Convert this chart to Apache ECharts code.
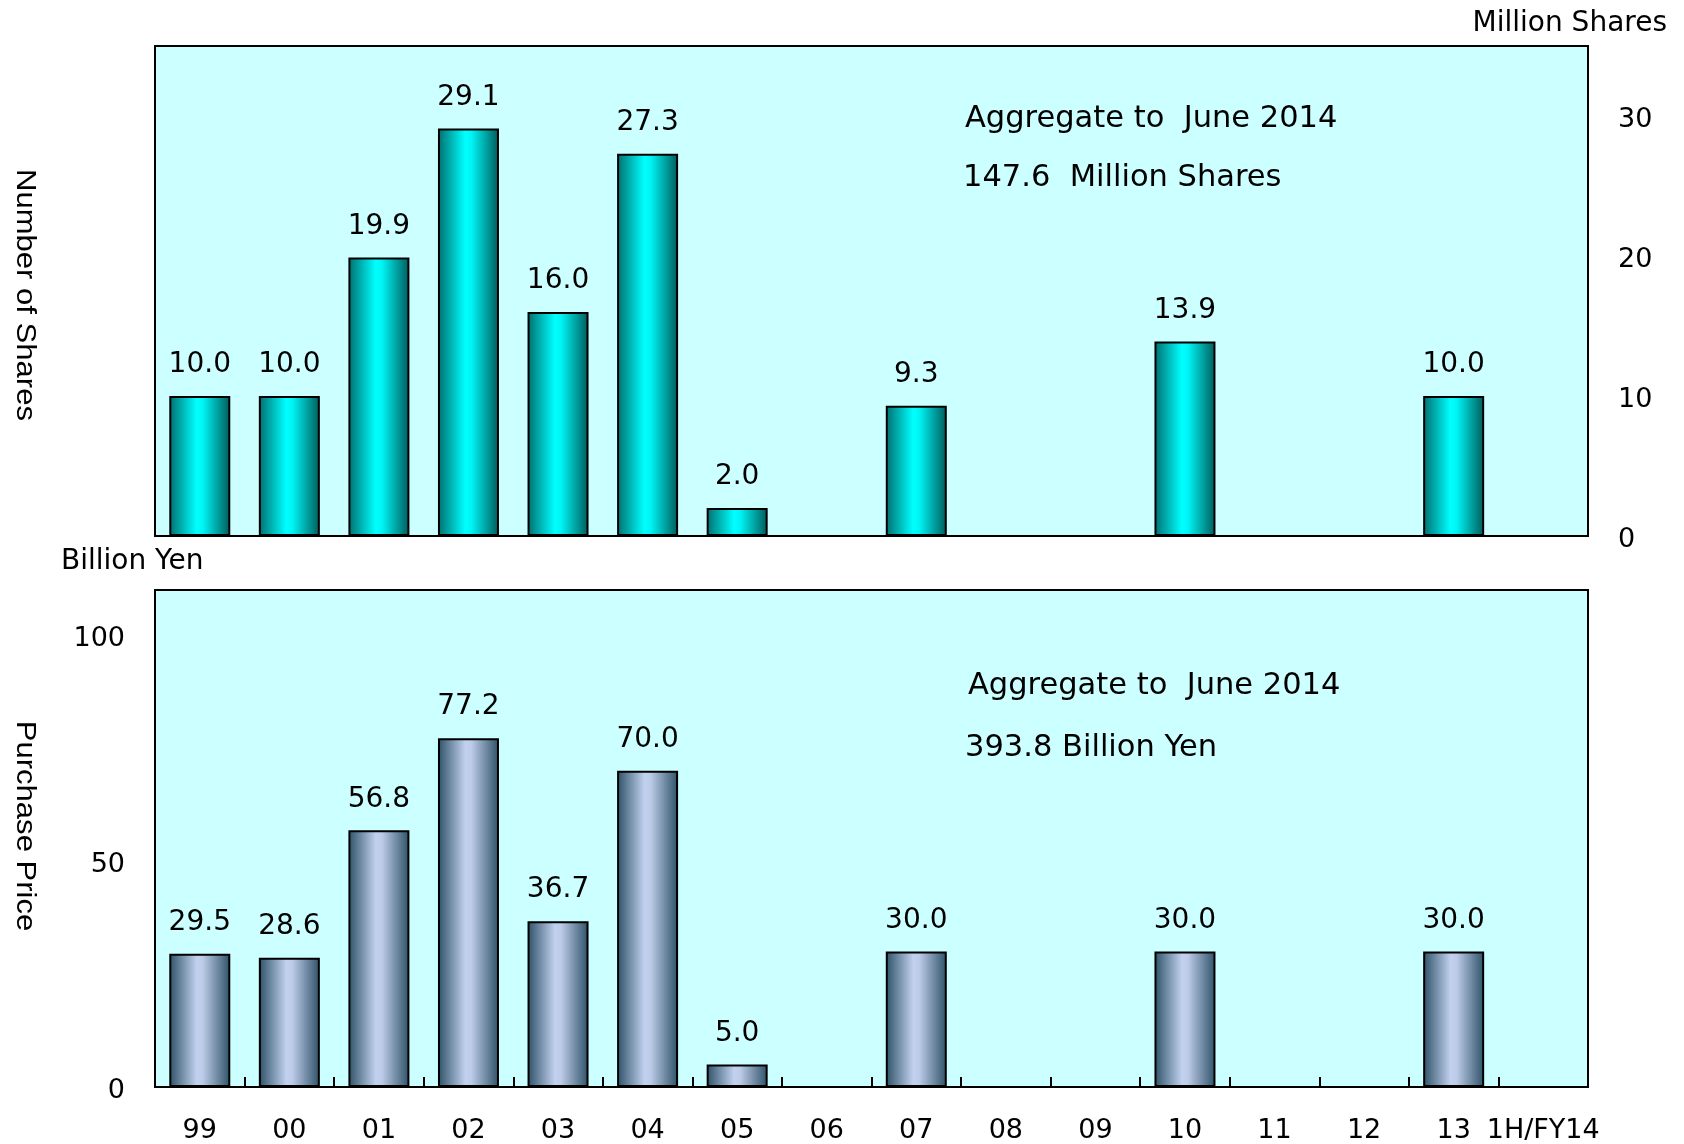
<!DOCTYPE html>
<html>
<head>
<meta charset="utf-8">
<style>
  html, body { margin: 0; padding: 0; background: #ffffff; }
  #chart { width: 1684px; height: 1144px; }
</style>
<script src="https://cdn.jsdelivr.net/npm/echarts@6/dist/echarts.min.js"></script>
</head>
<body>
<div id="chart"></div>
<script>
// Fiscal-year categories
const categories = ['99', '00', '01', '02', '03', '04', '05', '06', '07', '08', '09', '10', '11', '12', '13', '1H/FY14'];

// Number of shares purchased (million shares)
const sharesValues = [10.0, 10.0, 19.9, 29.1, 16.0, 27.3, 2.0, null, 9.3, null, null, 13.9, null, null, 10.0, null];

// Purchase price (billion yen)
const priceValues = [29.5, 28.6, 56.8, 77.2, 36.7, 70.0, 5.0, null, 30.0, null, null, 30.0, null, null, 30.0, null];

// Axis tick labels
const sharesTicks = [0, 10, 20, 30];
const priceTicks = [0, 50, 100];

const FONT = 'DejaVu Sans';

const chart = echarts.init(document.getElementById('chart'), null, { renderer: 'canvas' });

const cyanGradient = {
  type: 'linear', x: 0, y: 0, x2: 1, y2: 0,
  colorStops: [
    { offset: 0, color: '#006e6e' },
    { offset: 0.45, color: '#00ffff' },
    { offset: 0.55, color: '#00f4f4' },
    { offset: 1, color: '#005a5a' }
  ]
};

const slateGradient = {
  type: 'linear', x: 0, y: 0, x2: 1, y2: 0,
  colorStops: [
    { offset: 0, color: '#2d5166' },
    { offset: 0.45, color: '#c1d1ef' },
    { offset: 0.55, color: '#bccbe8' },
    { offset: 1, color: '#2d5166' }
  ]
};

// Only the listed values get a label; the rich token nudges the digits down a little
function tickFormatter(ticks) {
  return function (v) { return ticks.indexOf(v) >= 0 ? '{v|' + v + '}' : ''; };
}

const tickRich = {
  v: { fontSize: 27, color: '#000000', fontFamily: FONT, padding: [8, 0, 0, 0] }
};

const valueLabel = {
  show: true, position: 'top', distance: 17, fontSize: 28, color: '#000000', fontFamily: FONT,
  formatter: p => p.value == null ? '' : p.value.toFixed(1)
};

const option = {
  animation: false,
  backgroundColor: '#ffffff',
  grid: [
    { left: 155, right: 96, top: 46, height: 490, show: true, backgroundColor: '#ccffff', borderColor: '#000000', borderWidth: 2 },
    { left: 155, right: 96, top: 590, height: 497, show: true, backgroundColor: '#ccffff', borderColor: '#000000', borderWidth: 2 }
  ],
  xAxis: [
    {
      type: 'category', gridIndex: 0, data: categories,
      axisLine: { show: false }, axisTick: { show: false }, axisLabel: { show: false },
      splitLine: { show: false }
    },
    {
      type: 'category', gridIndex: 1, data: categories,
      axisLine: { show: false },
      axisTick: { show: true, inside: true, length: 10, lineStyle: { color: '#000000', width: 2 } },
      axisLabel: { interval: 0, margin: 30, fontSize: 27, color: '#000000', fontFamily: FONT },
      splitLine: { show: false }
    }
  ],
  yAxis: [
    {
      type: 'value', gridIndex: 0, position: 'right', min: 0, max: 35, interval: 10,
      axisLine: { show: false }, axisTick: { show: false }, splitLine: { show: false },
      axisLabel: { margin: 30, fontSize: 27, color: '#000000', fontFamily: FONT, formatter: tickFormatter(sharesTicks), rich: tickRich }
    },
    {
      type: 'value', gridIndex: 1, position: 'left', min: 0, max: 110, interval: 50,
      axisLine: { show: false }, axisTick: { show: false }, splitLine: { show: false },
      axisLabel: { margin: 30, fontSize: 27, color: '#000000', fontFamily: FONT, formatter: tickFormatter(priceTicks), rich: tickRich }
    }
  ],
  series: [
    {
      type: 'bar', xAxisIndex: 0, yAxisIndex: 0, data: sharesValues,
      barWidth: 61,
      itemStyle: { color: cyanGradient, borderColor: '#000000', borderWidth: 2 },
      label: valueLabel
    },
    {
      type: 'bar', xAxisIndex: 1, yAxisIndex: 1, data: priceValues,
      barWidth: 61,
      itemStyle: { color: slateGradient, borderColor: '#000000', borderWidth: 2 },
      label: valueLabel
    }
  ],
  graphic: [
    { type: 'text', right: 17, top: 10, style: { text: 'Million Shares', fontSize: 28, fontFamily: FONT, fill: '#000000' } },
    { type: 'text', left: 61, top: 548, style: { text: 'Billion Yen', fontSize: 28, fontFamily: FONT, fill: '#000000' } },
    { type: 'text', x: 965, y: 119, style: { text: 'Aggregate to  June 2014', fontSize: 30.5, fontFamily: FONT, fill: '#000000', verticalAlign: 'middle' } },
    { type: 'text', x: 963, y: 178, style: { text: '147.6  Million Shares', fontSize: 30.5, fontFamily: FONT, fill: '#000000', verticalAlign: 'middle' } },
    { type: 'text', x: 968, y: 686, style: { text: 'Aggregate to  June 2014', fontSize: 30.5, fontFamily: FONT, fill: '#000000', verticalAlign: 'middle' } },
    { type: 'text', x: 965, y: 748, style: { text: '393.8 Billion Yen', fontSize: 30.5, fontFamily: FONT, fill: '#000000', verticalAlign: 'middle' } },
    {
      type: 'text', x: 24, y: 295, rotation: -Math.PI / 2, scaleX: 1.15,
      style: { text: 'Number of Shares', fontSize: 27, fontFamily: 'Liberation Sans', fill: '#000000', align: 'center', verticalAlign: 'middle' }
    },
    {
      type: 'text', x: 24, y: 826, rotation: -Math.PI / 2, scaleX: 1.15,
      style: { text: 'Purchase Price', fontSize: 27, fontFamily: 'Liberation Sans', fill: '#000000', align: 'center', verticalAlign: 'middle' }
    }
  ]
};

chart.setOption(option);
</script>
</body>
</html>
